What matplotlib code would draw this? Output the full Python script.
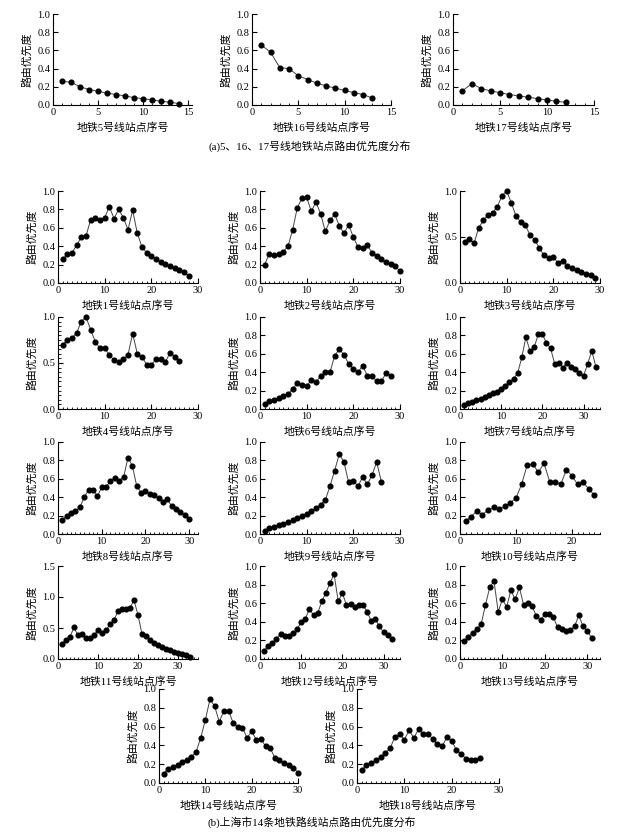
import matplotlib
matplotlib.use('Agg')
import matplotlib.pyplot as plt
from matplotlib.ticker import MultipleLocator

plt.rcParams['font.family'] = ['Liberation Serif', 'Noto Sans CJK SC']
plt.rcParams['font.size'] = 7.5

W, H = 625, 840

# route priority per station
line5 = [0.26, 0.25, 0.20, 0.17, 0.15, 0.13, 0.115, 0.10, 0.08, 0.07, 0.055, 0.04, 0.03, 0.015]
line16 = [0.66, 0.58, 0.41, 0.40, 0.32, 0.28, 0.24, 0.21, 0.185, 0.16, 0.135, 0.115, 0.075]
line17 = [0.155, 0.235, 0.18, 0.155, 0.135, 0.115, 0.10, 0.085, 0.07, 0.055, 0.04, 0.03]
line1 = [0.26, 0.31, 0.33, 0.41, 0.50, 0.51, 0.69, 0.71, 0.68, 0.71, 0.83, 0.70, 0.80, 0.71,
         0.58, 0.79, 0.54, 0.39, 0.33, 0.29, 0.26, 0.23, 0.21, 0.18, 0.16, 0.14, 0.12, 0.08]
line2 = [0.20, 0.32, 0.30, 0.31, 0.34, 0.40, 0.58, 0.82, 0.92, 0.93, 0.78, 0.88, 0.75, 0.56,
         0.68, 0.75, 0.62, 0.54, 0.63, 0.50, 0.39, 0.38, 0.41, 0.33, 0.29, 0.26, 0.23, 0.21,
         0.18, 0.13]
line3 = [0.45, 0.48, 0.43, 0.60, 0.68, 0.74, 0.76, 0.83, 0.95, 1.0, 0.87, 0.73, 0.66, 0.63,
         0.52, 0.47, 0.38, 0.30, 0.27, 0.28, 0.22, 0.24, 0.19, 0.16, 0.14, 0.12, 0.10, 0.09,
         0.05]
line4 = [0.70, 0.75, 0.77, 0.83, 0.95, 1.0, 0.86, 0.73, 0.66, 0.66, 0.59, 0.53, 0.51, 0.54,
         0.59, 0.82, 0.60, 0.57, 0.48, 0.48, 0.54, 0.54, 0.51, 0.61, 0.57, 0.52]
line6 = [0.05, 0.09, 0.10, 0.12, 0.14, 0.16, 0.22, 0.28, 0.26, 0.25, 0.31, 0.29, 0.36, 0.40,
         0.40, 0.58, 0.65, 0.59, 0.49, 0.44, 0.40, 0.47, 0.36, 0.36, 0.30, 0.30, 0.39, 0.36]
line7 = [0.04, 0.07, 0.08, 0.10, 0.11, 0.13, 0.15, 0.17, 0.19, 0.22, 0.25, 0.29, 0.33, 0.39,
         0.56, 0.78, 0.63, 0.67, 0.81, 0.81, 0.72, 0.66, 0.49, 0.50, 0.45, 0.50, 0.46, 0.43,
         0.39, 0.36, 0.49, 0.63, 0.46]
line8 = [0.15, 0.20, 0.23, 0.25, 0.29, 0.40, 0.48, 0.48, 0.41, 0.51, 0.51, 0.58, 0.61, 0.58,
         0.62, 0.83, 0.74, 0.52, 0.45, 0.47, 0.44, 0.42, 0.39, 0.35, 0.38, 0.30, 0.27, 0.24,
         0.21, 0.16]
line9 = [0.03, 0.07, 0.08, 0.10, 0.11, 0.13, 0.15, 0.17, 0.20, 0.22, 0.25, 0.28, 0.32, 0.37,
         0.52, 0.69, 0.87, 0.78, 0.56, 0.58, 0.52, 0.62, 0.54, 0.64, 0.78, 0.57]
line10 = [0.14, 0.19, 0.25, 0.21, 0.26, 0.29, 0.27, 0.30, 0.34, 0.39, 0.54, 0.75, 0.76, 0.67,
          0.77, 0.57, 0.57, 0.54, 0.70, 0.63, 0.54, 0.56, 0.49, 0.42]
line11 = [0.24, 0.31, 0.36, 0.51, 0.38, 0.41, 0.34, 0.34, 0.38, 0.47, 0.42, 0.46, 0.56, 0.63,
          0.77, 0.81, 0.81, 0.82, 0.95, 0.71, 0.40, 0.37, 0.30, 0.26, 0.22, 0.19, 0.16, 0.14,
          0.12, 0.10, 0.08, 0.06, 0.03]
line12 = [0.09, 0.14, 0.17, 0.22, 0.27, 0.25, 0.25, 0.28, 0.32, 0.40, 0.43, 0.54, 0.47, 0.49,
          0.62, 0.71, 0.82, 0.91, 0.62, 0.71, 0.58, 0.59, 0.56, 0.58, 0.58, 0.51, 0.41, 0.43,
          0.35, 0.29, 0.26, 0.21]
line13 = [0.19, 0.24, 0.28, 0.32, 0.38, 0.58, 0.77, 0.84, 0.51, 0.64, 0.56, 0.74, 0.64, 0.77,
          0.58, 0.60, 0.57, 0.46, 0.42, 0.48, 0.48, 0.45, 0.34, 0.32, 0.30, 0.31, 0.35, 0.47,
          0.35, 0.30, 0.23]
line14 = [0.10, 0.15, 0.17, 0.19, 0.22, 0.25, 0.28, 0.33, 0.48, 0.67, 0.89, 0.82, 0.65, 0.77,
          0.77, 0.64, 0.60, 0.59, 0.48, 0.55, 0.46, 0.47, 0.39, 0.37, 0.27, 0.24, 0.21, 0.19,
          0.16, 0.11]
line18 = [0.14, 0.19, 0.21, 0.24, 0.28, 0.32, 0.37, 0.49, 0.52, 0.46, 0.56, 0.48, 0.57, 0.52,
          0.52, 0.47, 0.41, 0.39, 0.49, 0.45, 0.35, 0.31, 0.26, 0.24, 0.24, 0.27]

ylab = '路由优先度'
cap_a = '(a)5、16、17号线地铁站点路由优先度分布'
cap_b = '(b)上海市14条地铁路线站点路由优先度分布'

fig = plt.figure(figsize=(W / 100, H / 100), dpi=100)


def panel(x0, x1, ytop, ybot, vals, num, xmax, xstep, ymax=1.0, ystep=0.2, yminor=None):
    ax = fig.add_axes([x0 / W, 1 - ybot / H, (x1 - x0) / W, (ybot - ytop) / H])
    xs = list(range(1, len(vals) + 1))
    ax.plot(xs, vals, color='#444444', lw=0.7, marker='o', ms=3.4,
            mfc='black', mec='black', clip_on=False)
    ax.set_xlim(0, xmax)
    ax.set_ylim(0, ymax)
    ax.xaxis.set_major_locator(MultipleLocator(xstep))
    ax.xaxis.set_minor_locator(MultipleLocator(1))
    ax.yaxis.set_major_locator(MultipleLocator(ystep))
    if yminor:
        ax.yaxis.set_minor_locator(MultipleLocator(yminor))
    ax.yaxis.set_major_formatter(plt.FormatStrFormatter('%.1f'))
    for s in ('top', 'right'):
        ax.spines[s].set_visible(False)
    for s in ('left', 'bottom'):
        ax.spines[s].set_linewidth(0.8)
    ax.tick_params(which='major', direction='in', length=3.5, width=0.8, pad=2, labelsize=7.5)
    ax.tick_params(which='minor', direction='in', length=1.8, width=0.6)
    ax.set_ylabel(ylab, fontsize=7.8)
    ax.set_xlabel('地铁%s号线站点序号' % num, fontsize=7.8)
    w = x1 - x0
    h = ybot - ytop
    # label anchors sit on the text edge nearest the axes
    ax.yaxis.set_label_coords(-21 / w, 0.5)
    ax.xaxis.set_label_coords(0.5, -17 / h)
    return ax


# (a) lines 5, 16, 17
panel(53, 192, 14, 105, line5, 5, 15.4, 5)
panel(252, 391, 14, 105, line16, 16, 15, 5)
panel(453, 594, 14, 105, line17, 17, 15, 5)
fig.text(310 / W, 1 - 146 / H, cap_a, ha='center', va='center', fontsize=7.8)

# (b) fourteen lines
c1, c2, c3 = 58, 260, 460
pw = 140
panel(c1, c1 + pw, 191, 283, line1, 1, 30, 10)
panel(c2, c2 + pw, 191, 283, line2, 2, 30, 10)
panel(c3, c3 + pw, 191, 283, line3, 3, 30, 10, ystep=0.5)

panel(c1, c1 + pw, 317, 409, line4, 4, 30, 10, ystep=0.5, yminor=0.05)
panel(c2, c2 + pw, 317, 409, line6, 6, 30, 10)
panel(c3, c3 + pw, 317, 409, line7, 7, 34, 10)

panel(c1, c1 + pw, 442, 534, line8, 8, 32, 10)
panel(c2, c2 + pw, 442, 534, line9, 9, 30, 10)
panel(c3, c3 + pw, 442, 534, line10, 10, 25, 10)

panel(c1, c1 + pw, 566, 659, line11, 11, 35, 10, ymax=1.5, ystep=0.5)
panel(c2, c2 + pw, 566, 659, line12, 12, 34, 10)
panel(c3, c3 + pw, 566, 659, line13, 13, 33, 10)

panel(159, 298, 689, 783, line14, 14, 30, 10)
panel(357, 499, 689, 783, line18, 18, 30, 10)
fig.text(312 / W, 1 - 822 / H, cap_b, ha='center', va='center', fontsize=7.8)

fig.savefig('out.png', dpi=100)
